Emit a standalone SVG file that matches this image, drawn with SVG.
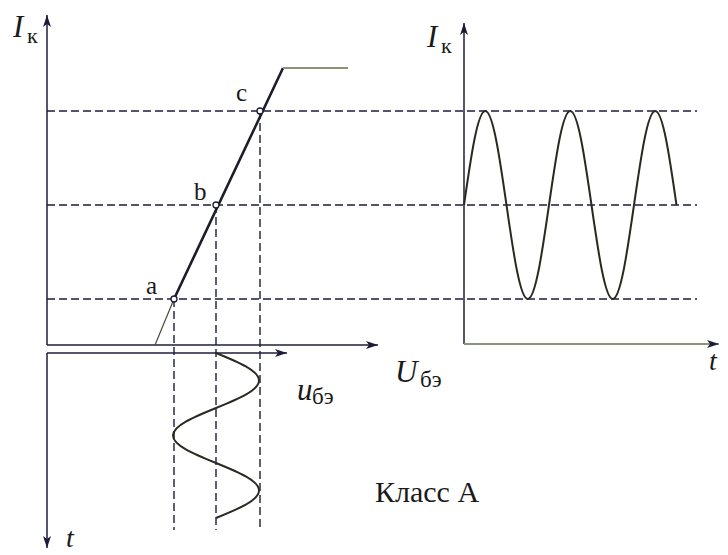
<svg xmlns="http://www.w3.org/2000/svg" width="728" height="555" viewBox="0 0 728 555">
<style>
.ax{stroke:#1c1c3a;stroke-width:1.5;fill:none}
.dash{stroke:#1c1c3a;stroke-width:1.4;fill:none;stroke-dasharray:8 4}
.curve{stroke:#2a2a22;stroke-width:2;fill:none}
.gray{stroke:#8c9478;stroke-width:2;fill:none}
.pt{fill:#fff;stroke:#1c1c3a;stroke-width:1.3}
text{font-family:'Liberation Serif','DejaVu Serif','Times New Roman',serif;fill:#1a1a1a}
.it{font-style:italic}
</style>
<defs>
<marker id="arr" markerWidth="14" markerHeight="10" refX="12" refY="5" orient="auto" markerUnits="userSpaceOnUse">
<path d="M0,1 L12,5 L0,9 L3,5 Z" fill="#1c1c3a"/>
</marker>
</defs>
<g id="connectors">
<line class="dash" x1="47" y1="111" x2="697" y2="111"/>
<line class="dash" x1="47" y1="205" x2="697" y2="205"/>
<line class="dash" x1="47" y1="299" x2="697" y2="299"/>
<line class="dash" x1="174" y1="299" x2="174" y2="530"/>
<line class="dash" x1="216" y1="205" x2="216" y2="530"/>
<line class="dash" x1="260" y1="111" x2="260" y2="530"/>
</g>
<g id="axes-left">
<line class="ax" x1="47" y1="345" x2="47" y2="15" marker-end="url(#arr)"/>
<line class="ax" x1="47" y1="345" x2="378" y2="345" marker-end="url(#arr)"/>
<line class="ax" x1="47" y1="353" x2="287" y2="353" marker-end="url(#arr)"/>
<line class="ax" x1="47" y1="353" x2="47" y2="548" marker-end="url(#arr)"/>
</g>
<g id="axes-right">
<line class="ax" x1="464" y1="344" x2="464" y2="23" marker-end="url(#arr)"/>
<line class="gray" x1="464" y1="344" x2="719" y2="344" stroke-width="1.6" marker-end="url(#arr)"/>
</g>
<g id="characteristic">
<line x1="155" y1="345" x2="174" y2="299" stroke="#4a4a3a" stroke-width="1.2"/>
<line x1="174" y1="299" x2="283" y2="68" stroke="#1c1c2a" stroke-width="2.6"/>
<line class="gray" x1="283" y1="68" x2="348" y2="68"/>
</g>
<g id="points" font-family="Liberation Serif, DejaVu Serif, serif">
<circle class="pt" cx="174" cy="299" r="3"/>
<circle class="pt" cx="216" cy="205" r="3"/>
<circle class="pt" cx="260" cy="111" r="3"/>
<text x="146" y="294" font-size="25">a</text>
<text x="194" y="200" font-size="25">b</text>
<text x="236" y="101" font-size="25">c</text>
</g>
<g id="input-sine">
<path class="curve" d="M216,353 C238.03,361.97 259,370.55 259,380.5 C259,390.45 238.03,399.03 216,408 C193.97,416.97 173,425.55 173,435.5 C173,445.45 193.97,454.03 216,463 C238.03,471.97 259,480.55 259,490.5 C259,500.45 238.03,509.03 216,518"/>
</g>
<g id="output-sine">
<path class="curve" d="M464,205 C470.93,156.84 477.56,111 485.25,111 C492.94,111 499.57,156.84 506.5,205 C513.43,253.16 520.06,299 527.75,299 C535.44,299 542.07,253.16 549,205 C555.93,156.84 562.56,111 570.25,111 C577.94,111 584.57,156.84 591.5,205 C598.43,253.16 605.06,299 612.75,299 C620.44,299 627.07,253.16 634,205 C640.93,156.84 647.56,111 655.25,111 C662.94,111 669.57,156.84 676.5,205"/>
</g>
<g id="labels" font-family="Liberation Serif, DejaVu Serif, serif">
<text class="it" x="13" y="37" font-size="31">I</text>
<text x="27" y="43" font-size="22">к</text>
<text class="it" x="427" y="47" font-size="31">I</text>
<text x="441" y="53" font-size="22">к</text>
<text class="it" x="395" y="382" font-size="31">U</text>
<text x="420" y="387" font-size="23">бэ</text>
<text class="it" x="297" y="400" font-size="31">u</text>
<text x="312" y="404" font-size="23">бэ</text>
<text class="it" x="66" y="547" font-size="28">t</text>
<text class="it" x="709" y="370" font-size="28">t</text>
<text x="375" y="502" font-size="30">Класс А</text>
</g>
</svg>
